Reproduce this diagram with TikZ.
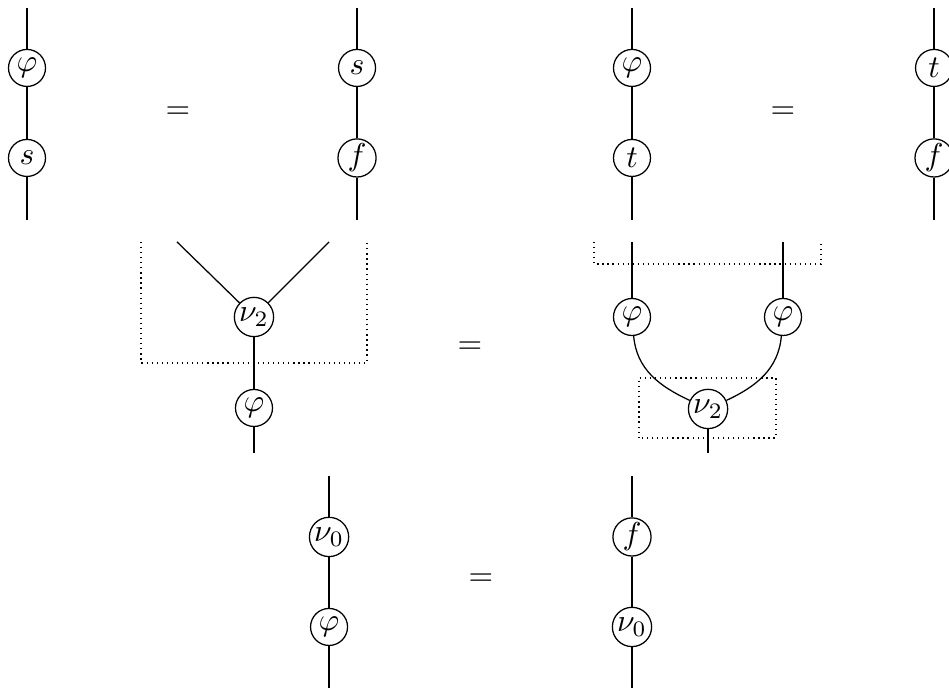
\documentclass[tikz,border=0pt]{standalone}
\usetikzlibrary{positioning}
\tikzset{
  every picture/.style={line width=0.4pt},
  morph/.style={draw, circle, minimum size=11.7pt, inner sep=0.5pt},
  region/.style={dash pattern=on 0.4pt off 1.2pt},
}

\begin{document}
\begin{tikzpicture}
  \useasboundingbox (0,0) rectangle (10.544,7.644);
  % top row: two equations
  \foreach \x/\up/\dn [count=\i] in {0.3/\varphi/s, 3.967/s/f, 7.022/\varphi/t, 10.378/t/f}{
    \coordinate (top\i) at (\x,7.556);
    \node[morph] (up\i) at (\x,6.889) {$\up$};
    \node[morph] (dn\i) at (\x,5.889) {$\dn$};
    \coordinate (bot\i) at (\x,5.2);
    \draw (top\i) -- (up\i) -- (dn\i) -- (bot\i);
  }
  \node (eqA) at (1.978,6.389) {$=$};
  \node (eqB) at (8.7,6.389) {$=$};
  % middle row, left side
  \node[morph] (nuL) at (2.822,4.122) {$\nu_2$};
  \node[morph] (phiL) at (2.822,3.111) {$\varphi$};
  \coordinate (inL1) at (1.967,4.956);
  \coordinate (inL2) at (3.656,4.956);
  \coordinate (outL) at (2.822,2.611);
  \draw (inL1) -- (nuL);
  \draw (inL2) -- (nuL);
  \draw (nuL) -- (phiL) -- (outL);
  \draw[region] (1.567,4.956) -- (1.567,3.611) -- (4.078,3.611) -- (4.078,4.956);
  \node (eqC) at (5.222,3.778) {$=$};
  % middle row, right side
  \node[morph] (phiR1) at (7.022,4.122) {$\varphi$};
  \node[morph] (phiR2) at (8.7,4.122) {$\varphi$};
  \node[morph] (nuR) at (7.867,3.1) {$\nu_2$};
  \coordinate (inR1) at (7.022,4.956);
  \coordinate (inR2) at (8.7,4.956);
  \coordinate (outR) at (7.867,2.611);
  \draw (inR1) -- (phiR1);
  \draw (inR2) -- (phiR2);
  \draw (phiR1) to[out=-85, in=155] (nuR);
  \draw (phiR2) to[out=-95, in=25] (nuR);
  \draw (nuR) -- (outR);
  \draw[region] (6.6,4.956) -- (6.6,4.711) -- (9.122,4.711) -- (9.122,4.956);
  \draw[region] (7.1,2.778) rectangle (8.622,3.444);
  % bottom row
  \node[morph] (nuA) at (3.656,1.678) {$\nu_0$};
  \node[morph] (phiA) at (3.656,0.678) {$\varphi$};
  \node[morph] (fA) at (7.022,1.678) {$f$};
  \node[morph] (nuB) at (7.022,0.678) {$\nu_0$};
  \coordinate (topA) at (3.656,2.356);
  \coordinate (botA) at (3.656,0);
  \coordinate (topB) at (7.022,2.356);
  \coordinate (botB) at (7.022,0);
  \draw (topA) -- (nuA) -- (phiA) -- (botA);
  \draw (topB) -- (fA) -- (nuB) -- (botB);
  \node (eqD) at (5.344,1.2) {$=$};
\end{tikzpicture}
\end{document}
